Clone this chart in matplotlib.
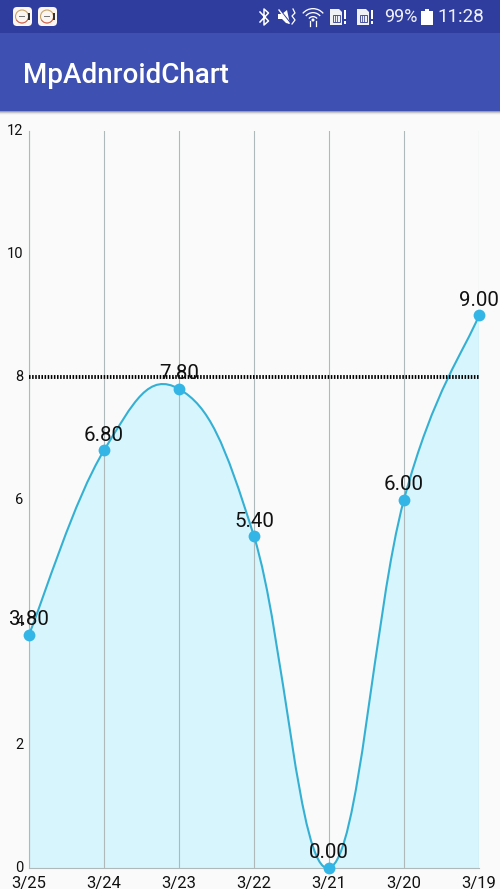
import matplotlib
matplotlib.use('Agg')
import matplotlib.pyplot as plt
from matplotlib.patches import Rectangle, FancyBboxPatch, Circle, Wedge, PathPatch
from matplotlib.path import Path

plt.rcParams['font.family'] = ['Roboto', 'DejaVu Sans']

# chart data
dates = ['3/25', '3/24', '3/23', '3/22', '3/21', '3/20', '3/19']
values = [3.80, 6.80, 7.80, 5.40, 0.00, 6.00, 9.00]
y_ticks = [0, 2, 4, 6, 8, 10, 12]
limit_value = 8
intensity = 0.2

LINE = '#35B0D3'
MARKER = '#33B5E5'
FILL = '#D6F5FD'
BG = '#FAFAFA'
STATUS = '#2F3E9E'
TOOLBAR = '#3F50B3'

W, H = 500, 889
fig = plt.figure(figsize=(W / 100, H / 100), dpi=100, facecolor=BG)


def cubic_path(xs, ys):
    # same control points as the android chart lib cubic mode
    n = len(xs)
    verts = [(xs[0], ys[0])]
    codes = [Path.MOVETO]
    for i in range(1, n):
        pp = max(i - 2, 0)
        nx = min(i + 1, n - 1)
        dx0 = (xs[i] - xs[pp]) * intensity
        dy0 = (ys[i] - ys[pp]) * intensity
        dx1 = (xs[nx] - xs[i - 1]) * intensity
        dy1 = (ys[nx] - ys[i - 1]) * intensity
        verts += [(xs[i - 1] + dx0, ys[i - 1] + dy0), (xs[i] - dx1, ys[i] - dy1), (xs[i], ys[i])]
        codes += [Path.CURVE4] * 3
    return verts, codes


# chart
ax = fig.add_axes([29 / W, (H - 868) / H, 450 / W, 737 / H], facecolor=BG)
ax.set_xlim(0, len(dates) - 1)
ax.set_ylim(0, 12)
xs = list(range(len(dates)))

verts, codes = cubic_path(xs, values)
fill_verts = verts + [(xs[-1], 0), (xs[0], 0), verts[0]]
fill_codes = codes + [Path.LINETO, Path.LINETO, Path.CLOSEPOLY]
ax.add_patch(PathPatch(Path(fill_verts, fill_codes), facecolor=FILL, edgecolor='none', zorder=1))
ax.add_patch(PathPatch(Path(verts, codes), facecolor='none', edgecolor=LINE, lw=1.5, zorder=3))

ax.set_xticks(xs)
ax.set_xticklabels(dates)
ax.set_yticks(y_ticks)
ax.grid(axis='x', color='#B0B9B9', lw=0.8, zorder=2)
ax.set_axisbelow(False)
for s in ['top', 'right']:
    ax.spines[s].set_visible(False)
for s in ['left', 'bottom']:
    ax.spines[s].set_color('#B0B9B9')
    ax.spines[s].set_linewidth(0.8)
ax.tick_params(length=0)
ax.tick_params(axis='x', labelsize=12, pad=6, colors='#111111')
ax.tick_params(axis='y', labelsize=10.5, colors='#111111', pad=4)
for lab in ax.get_yticklabels():
    lab.set_verticalalignment('center')

ax.plot([0, xs[-1]], [limit_value, limit_value], color='#000000', lw=2.8,
        linestyle=(0, (0.4, 0.4)), zorder=4)
ax.plot(xs, values, 'o', color=MARKER, ms=8.5, mew=0, zorder=5, clip_on=False)

for x, v in zip(xs, values):
    ax.annotate(f'{v:.2f}', (x, v), xytext=(0, 4), textcoords='offset points', ha='center',
                va='bottom', fontsize=14.8, color='#111111', zorder=6, annotation_clip=False)

# phone chrome, drawn in pixel coordinates
ui = fig.add_axes([0, 0, 1, 1], facecolor='none')
ui.set_xlim(0, W)
ui.set_ylim(H, 0)
ui.axis('off')
ui.add_patch(Rectangle((0, 0), W, 33, fc=STATUS, ec='none'))
ui.add_patch(Rectangle((0, 33), W, 78, fc=TOOLBAR, ec='none'))
for i, c in enumerate(['#9A9DA8', '#C3C5CB', '#E3E4E8', '#F4F4F6']):
    ui.add_patch(Rectangle((0, 111 + i), W, 1, fc=c, ec='none'))
ui.text(23, 75.5, 'MpAdnroidChart', color='white', fontsize=20, va='center', ha='left',
        fontweight='medium')

# notification icons
for x0 in [13, 38]:
    ui.add_patch(FancyBboxPatch((x0 + 2, 9), 15, 15, boxstyle='round,pad=2,rounding_size=4', fc='#FBF6F2', ec='none'))
    ui.add_patch(Circle((x0 + 9, 16.5), 6.5, fc='none', ec='#C9A56A', lw=0.8))
    ui.add_patch(Wedge((x0 + 9, 16.5), 6.9, 20, 150, width=0.8, fc='#D9534F', ec='none'))
    ui.add_patch(Rectangle((x0 + 5.5, 15.8), 6.5, 1.4, fc='#777777', ec='none'))
    ui.add_patch(Rectangle((x0 + 15, 13), 1.5, 7, fc='#333333', ec='none'))

# bluetooth
ui.plot([260, 268.5, 264, 264, 268.5, 260], [12, 21, 25, 9, 13, 22], color='white', lw=1.1)
# muted speaker
ui.add_patch(plt.Polygon([(278, 14), (282, 14), (287, 10), (290, 24), (286, 23), (282, 19), (278, 19)], fc='white', ec='none'))
ui.plot([279, 291], [9, 24], color=STATUS, lw=1.2)
ui.plot([279, 289], [10, 23], color='white', lw=1.0)
ui.plot([293, 295, 292, 295, 292], [9, 13, 16, 20, 24], color='white', lw=0.9)
# wifi
for r in [14, 10, 6]:
    ui.add_patch(Wedge((313, 22), r, 220, 320, width=1.3, fc='white', ec='none'))
ui.add_patch(Circle((313, 20), 1.5, fc='white', ec='none'))
ui.plot([310, 310], [21, 26], color='white', lw=0.9)
ui.plot([316, 316], [21, 26], color='white', lw=0.9)
# sim cards
for x0 in [330, 357]:
    ui.add_patch(plt.Polygon([(x0, 9), (x0 + 9, 9), (x0 + 12, 12), (x0 + 12, 25), (x0, 25)], fc='#F0F1F6', ec='none'))
    ui.add_patch(Rectangle((x0 + 2.5, 15), 7, 6.5, fc='none', ec='#49539F', lw=0.7))
    ui.add_patch(Rectangle((x0 + 5, 15), 2, 6.5, fc='none', ec='#49539F', lw=0.6))
    ui.add_patch(Rectangle((x0 + 14, 10), 1.7, 9, fc='white', ec='none'))
    ui.add_patch(Rectangle((x0 + 14, 21), 1.7, 2.5, fc='white', ec='none'))
ui.text(384, 17.5, '99%', color='#F0F1F8', fontsize=13, va='center', ha='left')
# battery
ui.add_patch(Rectangle((421, 11), 12, 14, fc='white', ec='none'))
ui.add_patch(Rectangle((425, 9), 4, 2, fc='white', ec='none'))
ui.text(484, 17.5, '11:28', color='#F0F1F8', fontsize=13.5, va='center', ha='right')

fig.savefig('out.png', dpi=100, facecolor=BG)
